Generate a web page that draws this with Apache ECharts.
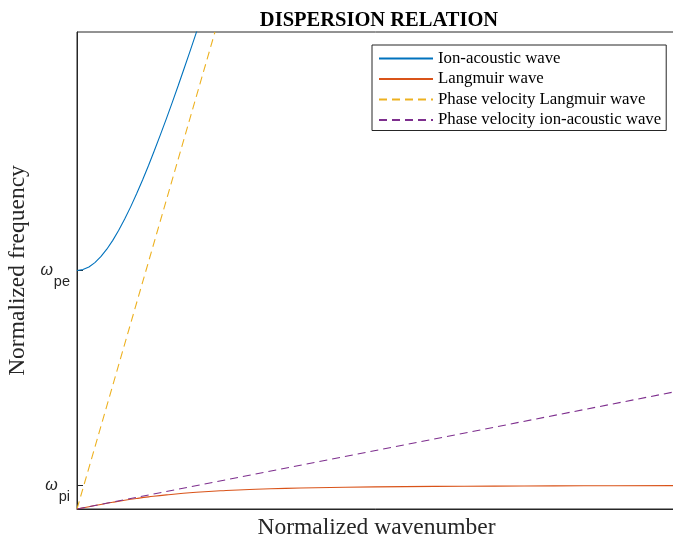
<!DOCTYPE html>
<html>
<head>
<meta charset="utf-8">
<script src="https://cdn.jsdelivr.net/npm/echarts@6/dist/echarts.min.js"></script>
<style>html,body{margin:0;padding:0;background:#fff}#c{width:673px;height:541px}</style>
</head>
<body>
<div id="c"></div>
<script>
// Normalized wavenumber (x) and normalized frequency (y)
const ionAcousticK = [0,0.01,0.02,0.03,0.04,0.05,0.06,0.07,0.08,0.09,0.10,0.11,0.12,0.13,0.14,0.15,0.16,0.17,0.18,0.19,0.20,0.21];
const ionAcousticW = [1.000,1.0037,1.0148,1.0331,1.0580,1.0893,1.1264,1.1687,1.2157,1.2668,1.3216,1.3796,1.4405,1.5039,1.5695,1.6369,1.7062,1.7769,1.8490,1.9222,1.9965,2.0717];
const langmuirK = [0,0.02,0.04,0.06,0.08,0.10,0.12,0.15,0.20,0.25,0.30,0.35,0.40,0.50,0.60,0.70,0.80,0.90,1.00];
const langmuirW = [0,0.00975,0.0192,0.0282,0.0365,0.0440,0.0507,0.0592,0.0700,0.0775,0.0827,0.0864,0.0891,0.0926,0.0947,0.0960,0.0969,0.0975,0.0980];
const phaseLangmuirK = [0, 0.2315];
const phaseLangmuirW = [0, 2.0];
const phaseIonK = [0, 1.0];
const phaseIonW = [0, 0.49];
const tickValues = [0.1, 1];
const tickLabels = ['pi', 'pe'];
const seriesNames = ['Ion-acoustic wave','Langmuir wave','Phase velocity Langmuir wave','Phase velocity ion-acoustic wave'];

const zip = (a,b) => a.map((v,i)=>[v,b[i]]);
const serif = '"Liberation Serif", "Times New Roman", serif';
const sans = '"Liberation Sans", Arial, sans-serif';
const chart = echarts.init(document.getElementById('c'), null, {renderer:'canvas'});
chart.setOption({
  animation: false,
  backgroundColor: '#fff',
  title: {
    text: 'DISPERSION RELATION', left: 374, top: 5, textAlign: 'center',
    textStyle: {fontFamily: serif, fontWeight: 'bold', fontSize: 20.5, color: '#000'}
  },
  legend: {
    orient: 'vertical', left: 372, top: 45,
    backgroundColor: '#fff', borderColor: '#262626', borderWidth: 1,
    padding: [5, 5, 2, 6], itemWidth: 54, itemHeight: 14, itemGap: 3.5,
    itemStyle: {opacity: 0},
    textStyle: {fontFamily: serif, fontSize: 16.8, lineHeight: 17, color: '#000', padding: [0,0,0,0]},
    data: seriesNames
  },
  grid: {left: 77, top: 32, right: -3, bottom: 32, show: true, borderColor: '#262626', borderWidth: 1, containLabel: false, outerBoundsMode: 'none'},
  xAxis: {
    type: 'value', min: 0, max: 1.005,
    name: 'Normalized wavenumber', nameLocation: 'middle', nameGap: 7,
    nameTextStyle: {fontFamily: serif, fontSize: 23.5, color: '#262626', verticalAlign: 'top'},
    axisLine: {show: true, lineStyle: {color: '#262626'}},
    axisTick: {show: false}, axisLabel: {show: false}, splitLine: {show: false}
  },
  yAxis: {
    type: 'value', min: 0, max: 2,
    name: 'Normalized frequency', nameLocation: 'middle', nameGap: 42, nameRotate: 90,
    nameTextStyle: {fontFamily: serif, fontSize: 23.5, color: '#262626'},
    axisLine: {show: true, lineStyle: {color: '#262626'}},
    axisTick: {show: true, inside: true, length: 6, customValues: tickValues, lineStyle: {color: '#262626'}},
    axisLabel: {
      show: true, customValues: tickValues, margin: 7,
      formatter: v => '{w|ω}{s|' + tickLabels[tickValues.indexOf(v)] + '}',
      rich: {
        w: {fontFamily: sans, fontStyle: 'italic', fontSize: 16, color: '#262626', padding: [10,1,9,0]},
        s: {fontFamily: sans, fontSize: 14.5, color: '#262626', padding: [23,0,0,0]}
      }
    },
    splitLine: {show: false}
  },
  series: [
    {name: seriesNames[0], type: 'line', data: zip(ionAcousticK, ionAcousticW), showSymbol: false, symbol: 'none', smooth: false,
     lineStyle: {color: '#0072BD', width: 1.1}, itemStyle: {color: '#0072BD'}, clip: true},
    {name: seriesNames[1], type: 'line', data: zip(langmuirK, langmuirW), showSymbol: false, symbol: 'none', smooth: true,
     lineStyle: {color: '#D95319', width: 1.1}, itemStyle: {color: '#D95319'}, clip: true},
    {name: seriesNames[2], type: 'line', data: zip(phaseLangmuirK, phaseLangmuirW), showSymbol: false, symbol: 'none',
     lineStyle: {color: '#EDB120', width: 1.1, type: [8,5]}, itemStyle: {color: '#EDB120'}, clip: true},
    {name: seriesNames[3], type: 'line', data: zip(phaseIonK, phaseIonW), showSymbol: false, symbol: 'none',
     lineStyle: {color: '#7E2F8E', width: 1.1, type: [8,5]}, itemStyle: {color: '#7E2F8E'}, clip: true}
  ]
});
</script>
</body>
</html>
